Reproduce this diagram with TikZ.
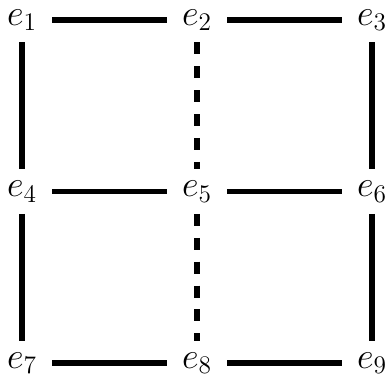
\documentclass[tikz,border=0pt]{standalone}
\usepackage{tikz}
\usetikzlibrary{positioning}
\tikzstyle{vertex} = [inner xsep=8.5pt, inner ysep=6.5pt, font=\huge]
\tikzstyle{edge} = [line width=3.3pt]
\tikzstyle{dashedge} = [line width=3.3pt, dash pattern=on 6.8pt off 6.8pt]

\begin{document}
\begin{tikzpicture}[node distance=3.43cm and 3.5cm, on grid]
    \useasboundingbox (-0.44,-7.16) rectangle (7.38,0.4);

    \node (e1) [vertex] {$e_1$};
    \node (e2) [vertex, right=of e1] {$e_2$};
    \node (e3) [vertex, right=of e2] {$e_3$};

    \node (e4) [vertex, below=of e1] {$e_4$};
    \node (e5) [vertex, right=of e4] {$e_5$};
    \node (e6) [vertex, right=of e5] {$e_6$};

    \node (e7) [vertex, below=of e4] {$e_7$};
    \node (e8) [vertex, right=of e7] {$e_8$};
    \node (e9) [vertex, right=of e8] {$e_9$};

    \draw [edge] (e1) -- (e2);
    \draw [edge] (e2) -- (e3);
    \draw [edge] (e4) -- (e5);
    \draw [edge] (e5) -- (e6);
    \draw [edge] (e7) -- (e8);
    \draw [edge] (e8) -- (e9);

    \draw [edge] (e1) -- (e4);
    \draw [edge] (e4) -- (e7);
    \draw [edge] (e3) -- (e6);
    \draw [edge] (e6) -- (e9);
    \draw [dashedge] (e2) -- (e5);
    \draw [dashedge] (e5) -- (e8);
\end{tikzpicture}
\end{document}
